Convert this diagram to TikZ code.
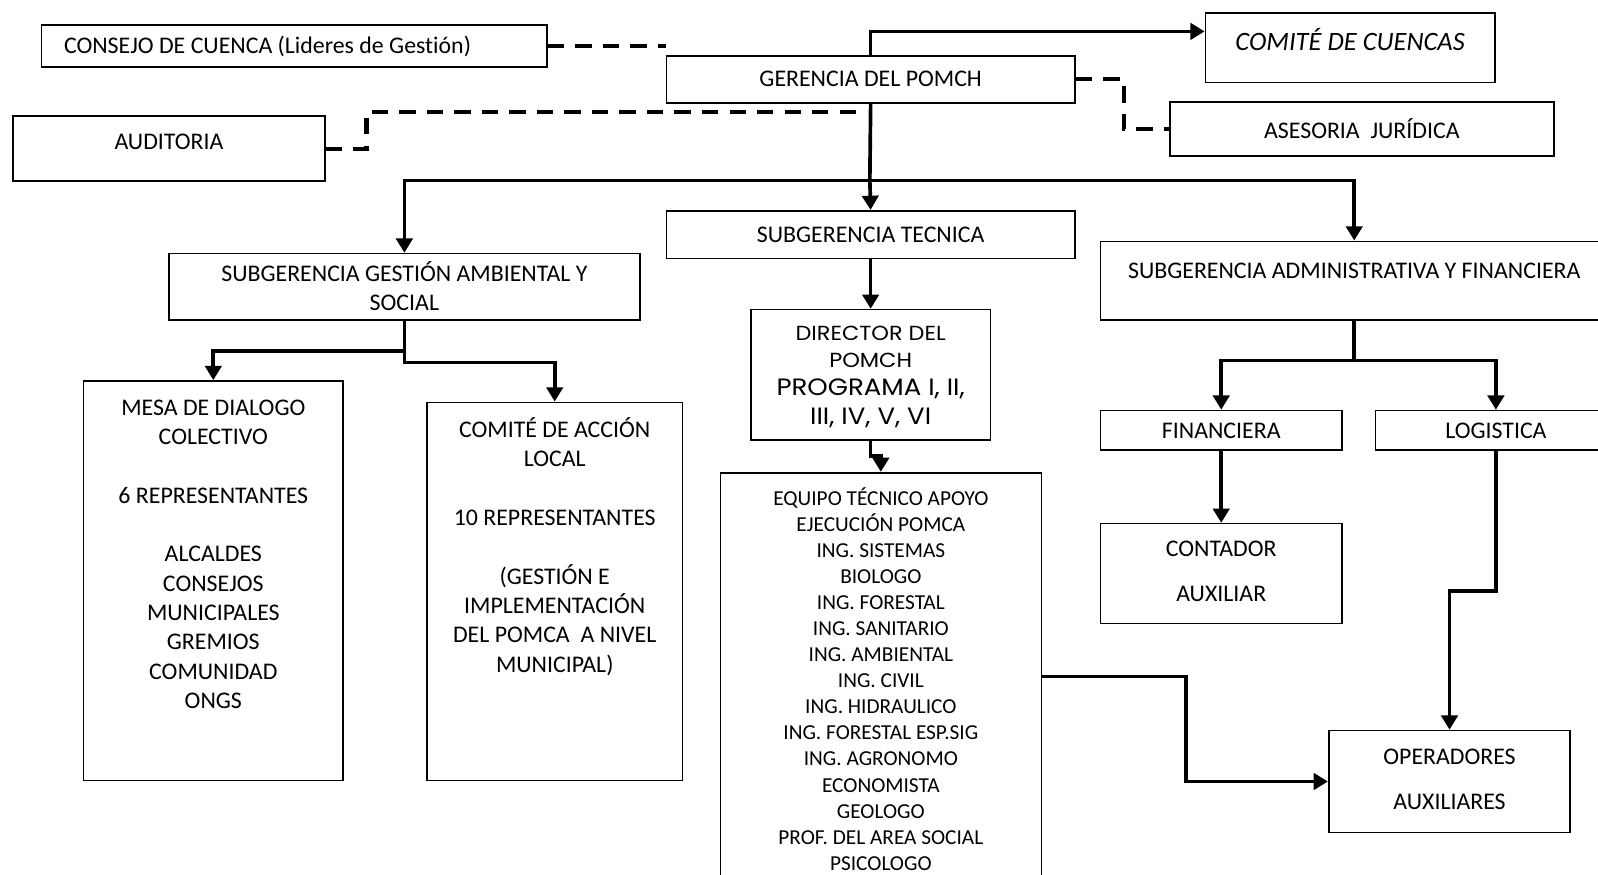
\documentclass[tikz,border=0pt]{standalone}
\usepackage{fontspec}
\setmainfont[Ligatures=NoCommon]{Carlito}
\newfontfamily\gothic[FakeStretch=1.1]{Poppins}
\usetikzlibrary{arrows.meta}
\def\cellbox#1#2#3#4{\parbox[c][#2][t]{#1}{\centering\vspace*{#3}\strut#4}}

\tikzset{
	box/.style={draw, line width=0.8pt, inner sep=0pt, anchor=north west},
	link/.style={line width=1.8pt},
	arrowlink/.style={link, -{Triangle[length=7pt,width=8pt]}},
	dashlink/.style={line width=2pt, dash pattern=on 8pt off 5.5pt},
}

\begin{document}
\begin{tikzpicture}[x=0.5pt, y=-0.5pt, font=\fontsize{11.7}{14.4}\selectfont]
	%%%%% START %%%%%
	\useasboundingbox (0,0) rectangle (1568,858);
	
	% top row
	\node[box, minimum height=20.5pt, text width=226pt, inner xsep=11pt, align=flush left] (consejo) at (40,24) {CONSEJO DE CUENCA (Lideres de Gestión)};
	\node[box, minimum width=200.5pt, minimum height=23pt] (gerencia) at (653,54) {GERENCIA DEL POMCH};
	\node[box, font=\fontsize{13}{16}\selectfont\itshape] (comite) at (1182,12) {\cellbox{142pt}{34pt}{7pt}{COMITÉ DE CUENCAS}};
	\node[box, minimum width=188.5pt, minimum height=26.5pt] (asesoria) at (1147,99) {ASESORIA\ \ JURÍDICA};
	\node[box] (auditoria) at (12,113) {\cellbox{153pt}{32pt}{6.6pt}{AUDITORIA}};
	
	% subgerencias
	\node[box] (sga) at (165,248) {\cellbox{231pt}{32.5pt}{3.65pt}{SUBGERENCIA GESTIÓN AMBIENTAL Y\\SOCIAL}};
	\node[box, minimum width=200.5pt, minimum height=23.5pt] (st) at (653,206) {SUBGERENCIA TECNICA};
	\node[box] (saf) at (1079,236) {\cellbox{249pt}{38.5pt}{8.15pt}{SUBGERENCIA ADMINISTRATIVA Y FINANCIERA}};
	
	% gestion ambiental
	\node[box] (mesa) at (81,373) {\cellbox{127.5pt}{196pt}{6.65pt}{MESA DE DIALOGO\\COLECTIVO\\[14.4pt]6 REPRESENTANTES\\[14.4pt]ALCALDES\\CONSEJOS\\MUNICIPALES\\GREMIOS\\COMUNIDAD\\ONGS}};
	\node[box] (cal) at (418,394) {\cellbox{125.5pt}{185.5pt}{7.15pt}{COMITÉ DE ACCIÓN\\LOCAL\\[14.4pt]10 REPRESENTANTES\\[14.4pt](GESTIÓN E\\IMPLEMENTACIÓN\\DEL POMCA\ \ A NIVEL\\MUNICIPAL)}};
	
	% tecnica
	\node[box, font=\gothic\fontsize{10}{13}\selectfont] (director) at (736,303) {\cellbox{117.5pt}{64pt}{6.15pt}{DIRECTOR DEL\\POMCH\\\fontsize{11.6}{14}\selectfont PROGRAMA I, II,\\III, IV, V, VI}};
	\node[box, font=\fontsize{10.45}{12.8}\selectfont] (equipo) at (706,463) {\cellbox{157.5pt}{200pt}{6.9pt}{EQUIPO TÉCNICO APOYO\\EJECUCIÓN POMCA\\ING. SISTEMAS\\BIOLOGO\\ING. FORESTAL\\ING. SANITARIO\\ING. AMBIENTAL\\ING. CIVIL\\ING. HIDRAULICO\\ING. FORESTAL ESP.SIG\\ING. AGRONOMO\\ECONOMISTA\\GEOLOGO\\PROF. DEL AREA SOCIAL\\PSICOLOGO}};
	
	% administrativa
	\node[box, minimum width=118.5pt, minimum height=19.5pt] (fin) at (1079,402) {FINANCIERA};
	\node[box, minimum width=118pt, minimum height=19.5pt] (log) at (1349,402) {LOGISTICA};
	\node[box, font=\fontsize{11.7}{22}\selectfont] (contador) at (1079,513) {\cellbox{118.5pt}{49pt}{0.85pt}{CONTADOR\\AUXILIAR}};
	\node[box, font=\fontsize{11.7}{22}\selectfont] (oper) at (1303,716) {\cellbox{118.5pt}{50pt}{1.35pt}{OPERADORES\\AUXILIARES}};
	
	% connectors
	\coordinate (bus) at (853.5,177);
	\coordinate (auditend) at (848,110);
	
	\draw[dashlink] (consejo.east) -- (consejo.east -| gerencia.west);
	\draw[dashlink] (auditoria.east) -- ++(40,0) |- (auditend);
	\draw[dashlink] (gerencia.east) -- ++(47,0) |- (asesoria.west);
	
	\draw[arrowlink] (gerencia.north) |- ([yshift=8pt]comite.west);
	\draw[link] (gerencia.south) -- (bus);
	\draw[arrowlink] (bus) -| (sga.north);
	\draw[arrowlink] (bus) -- (st.north);
	\draw[arrowlink] (bus) -| (saf.north);
	
	\draw[arrowlink] (sga.south) -- ++(0,30) -| (mesa.north);
	\draw[arrowlink] (sga.south) -- ++(0,41) -| (cal.north);
	
	\draw[arrowlink] (st.south) -- (director.north);
	\draw[arrowlink] (director.south) -- ++(0,15) -| (equipo.north);
	\draw[arrowlink] (equipo.east) -- ++(141,0) |- (oper.west);
	
	\draw[arrowlink] (saf.south) -- ++(0,39) -| (fin.north);
	\draw[arrowlink] (saf.south) -- ++(0,39) -| (log.north);
	\draw[arrowlink] (fin.south) -- (contador.north);
	\draw[arrowlink] (log.south) -- ++(0,137) -| (oper.north);
	
	%%%%% END %%%%%
\end{tikzpicture}
\end{document}
